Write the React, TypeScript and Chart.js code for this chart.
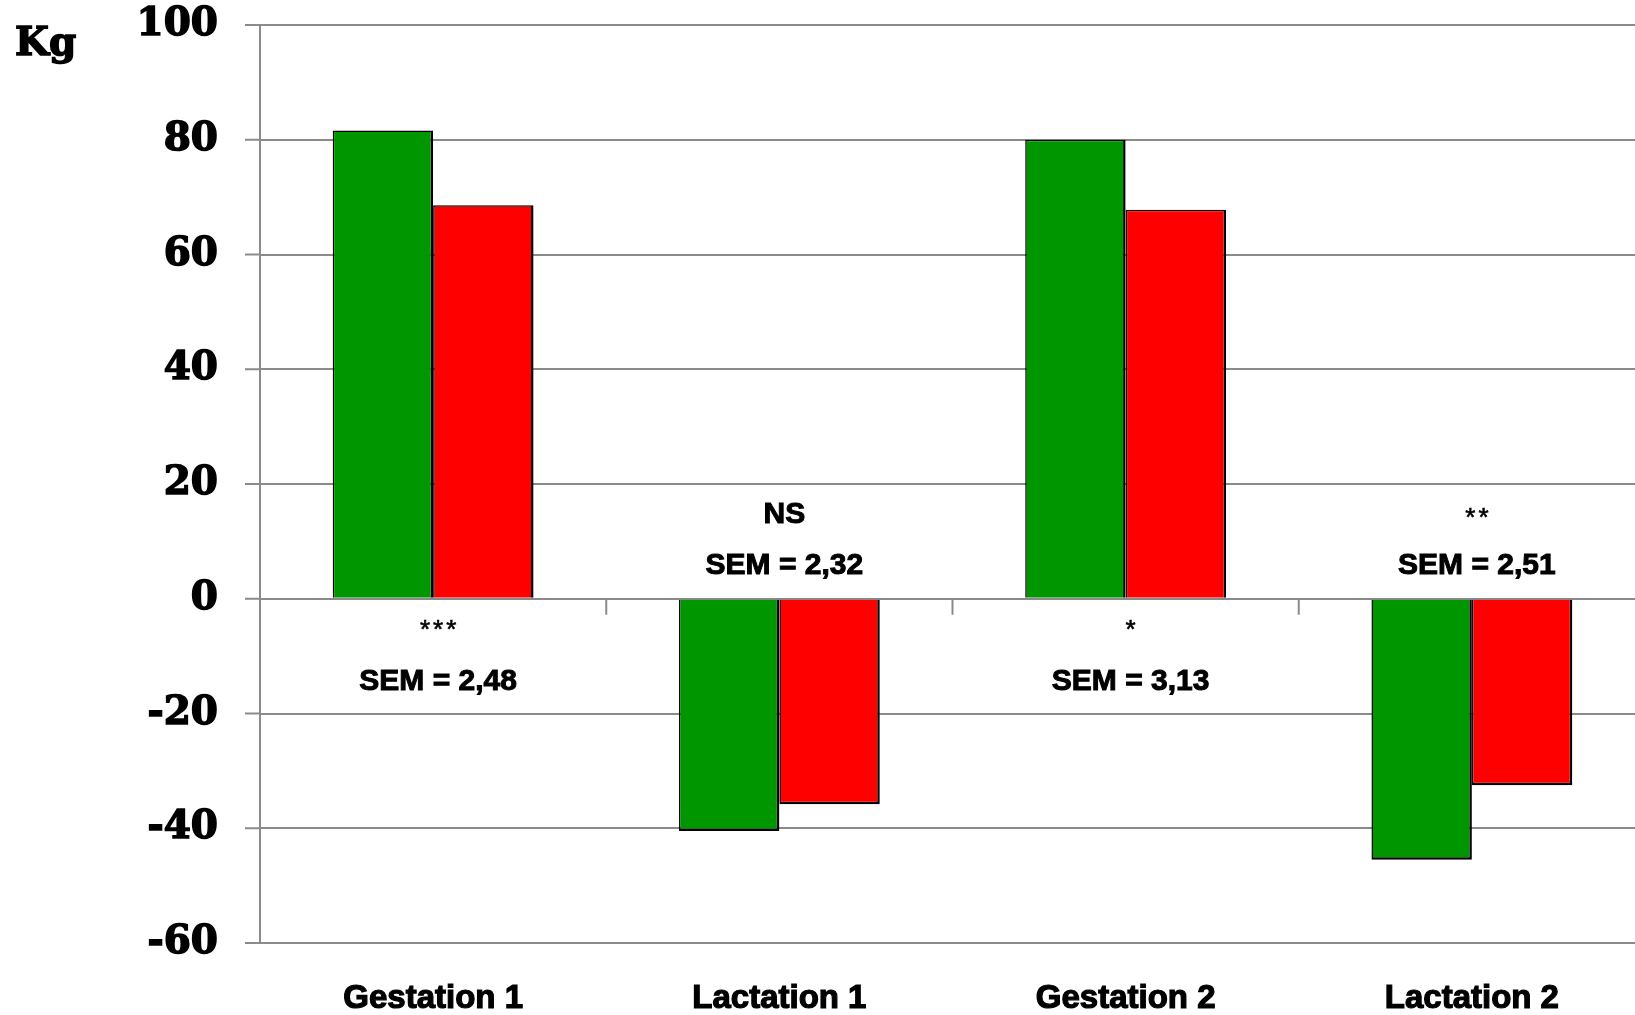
import React, { useEffect, useRef } from "react";
import { Chart, registerables } from "chart.js";

Chart.register(...registerables);

const categories = ["Gestation 1", "Lactation 1", "Gestation 2", "Lactation 2"];
const greenValues = [81.6, -40.5, 80.0, -45.5];
const redValues = [68.6, -35.8, 67.8, -32.5];
const significance = ["***", "NS", "*", "**"];
const semLabels = ["SEM = 2,48", "SEM = 2,32", "SEM = 3,13", "SEM = 2,51"];
const yMin = -60;
const yMax = 100;
const yStep = 20;
const unitLabel = "Kg";

const GRID = "#8a8a8a";
const CANVAS_W = 1645;
const CANVAS_H = 1015;

const annotationPlugin = {
  id: "annotations",
  afterDatasetsDraw(chart: any) {
    const { ctx, scales } = chart;
    const x = scales.x;
    const y = scales.y;
    const y0 = y.getPixelForValue(0);
    ctx.save();
    ctx.strokeStyle = GRID;
    ctx.lineWidth = 2;
    // short tick marks on the value axis
    y.ticks.forEach((t: any) => {
      const py = y.getPixelForValue(t.value);
      ctx.beginPath();
      ctx.moveTo(y.right - 15, py);
      ctx.lineTo(y.right, py);
      ctx.stroke();
    });
    // category separator ticks on the zero line
    for (let i = 0; i < categories.length - 1; i++) {
      const xm = (x.getPixelForValue(i) + x.getPixelForValue(i + 1)) / 2;
      ctx.beginPath();
      ctx.moveTo(xm, y0);
      ctx.lineTo(xm, y0 + 16);
      ctx.stroke();
    }
    ctx.fillStyle = "#000";
    ctx.strokeStyle = "#000";
    ctx.textAlign = "center";
    ctx.textBaseline = "middle";
    categories.forEach((_, i) => {
      const cx = x.getPixelForValue(i) + 5;
      const positive = greenValues[i] >= 0;
      const sigY = positive ? y0 + 28 : y0 - 84;
      const semY = positive ? y0 + 83 : y0 - 33;
      const sig = significance[i];
      if (sig.startsWith("*")) {
        ctx.font = "26px 'Liberation Sans'";
        (ctx as any).letterSpacing = "3px";
        ctx.lineWidth = 0.6;
        ctx.fillText(sig, cx + 1.5, sigY + 4);
        ctx.strokeText(sig, cx + 1.5, sigY + 4);
        (ctx as any).letterSpacing = "0px";
      } else {
        ctx.font = "bold 30px 'Liberation Sans'";
        ctx.lineWidth = 1;
        ctx.fillText(sig, cx, sigY);
        ctx.strokeText(sig, cx, sigY);
      }
      ctx.font = "bold 30px 'Liberation Sans'";
      ctx.lineWidth = 1;
      ctx.fillText(semLabels[i], cx, semY);
      ctx.strokeText(semLabels[i], cx, semY);
    });
    ctx.textAlign = "left";
    ctx.textBaseline = "alphabetic";
    ctx.font = "bold 39px 'DejaVu Serif'";
    ctx.lineWidth = 1.5;
    ctx.fillText(unitLabel, 15, 55);
    ctx.strokeText(unitLabel, 15, 55);
    ctx.restore();
  },
};

export default function App() {
  const ref = useRef<HTMLCanvasElement | null>(null);

  useEffect(() => {
    document.body.style.margin = "0";
    document.body.style.overflow = "hidden";
    document.body.style.background = "#fff";
    if (!ref.current) return;
    const chart = new Chart(ref.current, {
      type: "bar",
      data: {
        labels: categories,
        datasets: [
          {
            label: "Green",
            data: greenValues,
            backgroundColor: "#009600",
            borderColor: "#000",
            borderWidth: { top: 1.5, left: 1.5, right: 2.5, bottom: 2.5 } as any,
          },
          {
            label: "Red",
            data: redValues,
            backgroundColor: "#ff0000",
            borderColor: "#000",
            borderWidth: { top: 1.5, left: 1.5, right: 2.5, bottom: 2.5 } as any,
          },
        ],
      },
      options: {
        responsive: false,
        animation: false,
        devicePixelRatio: 1,
        layout: { padding: { top: 25, right: 0, left: 0, bottom: 0 } },
        datasets: { bar: { categoryPercentage: 0.58, barPercentage: 1.0 } },
        plugins: {
          legend: { display: false },
          tooltip: { enabled: false },
          title: { display: false },
        },
        scales: {
          x: {
            grid: { display: false, drawTicks: false },
            border: { display: true, color: GRID, width: 2 },
            ticks: {
              autoSkip: false,
              maxRotation: 0,
              padding: 36,
              color: "#000",
              textStrokeColor: "#000",
              textStrokeWidth: 1.2,
              font: { family: "'Liberation Sans'", weight: "bold", size: 33 },
            },
            afterFit(scale: any) {
              scale.height = 72;
            },
          },
          y: {
            min: yMin,
            max: yMax,
            ticks: {
              stepSize: yStep,
              padding: 0,
              color: "#000",
              textStrokeColor: "#000",
              textStrokeWidth: 1.5,
              font: { family: "'DejaVu Serif'", weight: "bold", size: 39 },
            },
            grid: {
              color: GRID,
              lineWidth: 2,
              drawTicks: true,
              tickLength: 42,
              tickColor: "rgba(0,0,0,0)",
            },
            border: { display: true, color: GRID, width: 2 },
            afterFit(scale: any) {
              scale.width = 260;
            },
          },
        },
      },
      plugins: [annotationPlugin],
    });
    return () => chart.destroy();
  }, []);

  return (
    <canvas
      ref={ref}
      width={CANVAS_W}
      height={CANVAS_H}
      style={{ display: "block", width: CANVAS_W, height: CANVAS_H }}
    />
  );
}
